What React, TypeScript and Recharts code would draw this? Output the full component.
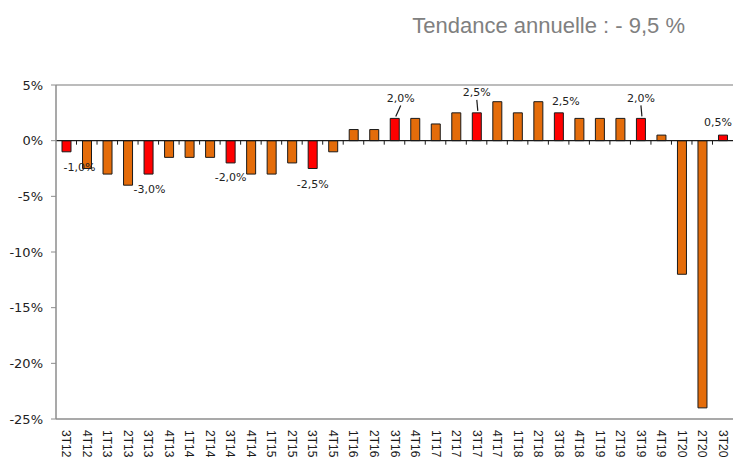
import { BarChart, Bar, XAxis, YAxis, Cell, ReferenceLine, LabelList } from "recharts";

const QUARTERS = [
  "3T12", "4T12", "1T13", "2T13", "3T13", "4T13", "1T14", "2T14", "3T14", "4T14", "1T15",
  "2T15", "3T15", "4T15", "1T16", "2T16", "3T16", "4T16", "1T17", "2T17", "3T17", "4T17",
  "1T18", "2T18", "3T18", "4T18", "1T19", "2T19", "3T19", "4T19", "1T20", "2T20", "3T20",
];
const VARIATION = [
  -1.0, -2.5, -3.0, -4.0, -3.0, -1.5, -1.5, -1.5, -2.0, -3.0, -3.0,
  -2.0, -2.5, -1.0, 1.0, 1.0, 2.0, 2.0, 1.5, 2.5, 2.5, 3.5,
  2.5, 3.5, 2.5, 2.0, 2.0, 2.0, 2.0, 0.5, -12.0, -24.0, 0.5,
];
// same quarter of each year -> red bars with labels
const HIGHLIGHTED = ["3T12", "3T13", "3T14", "3T15", "3T16", "3T17", "3T18", "3T19", "3T20"];
const Y_TICKS = [5, 0, -5, -10, -15, -20, -25];
const TITLE = "Tendance annuelle : - 9,5 %";

// label nudges (px from bar end), leader = small line back to the bar
const LABEL_POS: Record<string, { dx: number; dy: number; leader?: boolean }> = {
  "3T12": { dx: 13, dy: 16 },
  "3T13": { dx: 1, dy: 15 },
  "3T14": { dx: 0, dy: 15 },
  "3T15": { dx: 0, dy: 16 },
  "3T16": { dx: 6, dy: -20, leader: true },
  "3T17": { dx: 0, dy: -20, leader: true },
  "3T18": { dx: 7, dy: -11 },
  "3T19": { dx: 0, dy: -20, leader: true },
  "3T20": { dx: -5, dy: -13 },
};

const data = QUARTERS.map((q, i) => ({ quarter: q, value: VARIATION[i] }));

const ORANGE = "#E46C0A";
const RED = "#FF0000";
const AXIS_GREY = "#8c8c8c";
const FONT = "'DejaVu Sans', Verdana, sans-serif";

const fmt = (v: number) => `${v.toFixed(1).replace(".", ",")}%`;

function QuarterTick(props: any) {
  const { x, y, payload } = props;
  return (
    <text
      transform={`translate(${x - 4},${y + 3}) rotate(90)`}
      textAnchor="start"
      fontSize={12}
      fontFamily="'Liberation Sans', Arial, sans-serif"
      fill="#1a1a1a"
    >
      {payload.value}
    </text>
  );
}

function ZeroLine(props: any) {
  const { x1, x2, y1 } = props;
  const band = (x2 - x1) / QUARTERS.length;
  return (
    <g>
      <line x1={x1} x2={x2} y1={y1} y2={y1} stroke="#1a1a1a" strokeWidth={1.3} />
      {QUARTERS.slice(1).map((q, i) => (
        <line key={q} x1={x1 + band * (i + 1)} x2={x1 + band * (i + 1)} y1={y1} y2={y1 + 4} stroke="#1a1a1a" strokeWidth={1} />
      ))}
    </g>
  );
}

function PointLabel(props: any) {
  const vb = props.viewBox ?? props;
  const idx = props.index;
  const q = QUARTERS[idx];
  if (!q || !HIGHLIGHTED.includes(q)) return null;
  const v = VARIATION[idx];
  const { x, y, width, height } = vb;
  const cx = x + width / 2;
  const end = v < 0 ? Math.max(y, y + height) : Math.min(y, y + height);
  const p = LABEL_POS[q] ?? { dx: 0, dy: v < 0 ? 15 : -12 };
  const lx = cx + p.dx;
  const ly = end + p.dy;
  return (
    <g>
      {p.leader && (
        <line x1={cx + 1} y1={end - 2} x2={lx} y2={ly + 7} stroke="#1a1a1a" strokeWidth={1.2} />
      )}
      <text x={lx} y={ly} textAnchor="middle" dominantBaseline="central" fontSize={11} fontFamily={FONT} fill="#222">
        {fmt(v)}
      </text>
    </g>
  );
}

export default function App() {
  return (
    <div style={{ position: "absolute", left: 0, top: 0, width: 733, height: 461, background: "#fff" }}>
      <BarChart width={733} height={461} data={data} margin={{ top: 85, right: 0, bottom: 0, left: 0 }} barCategoryGap={0}>
        <XAxis
          dataKey="quarter"
          interval={0}
          height={42}
          tickLine={false}
          axisLine={{ stroke: AXIS_GREY, strokeWidth: 1.5 }}
          tick={<QuarterTick />}
        />
        <YAxis
          width={56}
          domain={[-25, 5]}
          ticks={Y_TICKS}
          allowDataOverflow
          tickFormatter={(v: number) => `${v}%`}
          tick={{ fontSize: 13, fill: "#222", fontFamily: FONT }}
          tickSize={5}
          tickMargin={8}
          axisLine={{ stroke: AXIS_GREY, strokeWidth: 1.5 }}
          tickLine={{ stroke: AXIS_GREY }}
        />
        <ReferenceLine y={5} stroke="#a6a6a6" strokeWidth={1.5} />
        <ReferenceLine y={0} shape={<ZeroLine />} />
        <Bar dataKey="value" barSize={9} stroke="#1a1a1a" strokeWidth={1} isAnimationActive={false}>
          {data.map((d) => (
            <Cell key={d.quarter} fill={HIGHLIGHTED.includes(d.quarter) ? RED : ORANGE} />
          ))}
          <LabelList dataKey="value" content={<PointLabel />} />
        </Bar>
      </BarChart>
      <svg width={733} height={461} style={{ position: "absolute", left: 0, top: 0, pointerEvents: "none" }}>
        <text x={685} y={33} textAnchor="end" fontSize={22} fontFamily="'Liberation Sans', Arial, sans-serif" fill="#808080">
          {TITLE}
        </text>
      </svg>
    </div>
  );
}
